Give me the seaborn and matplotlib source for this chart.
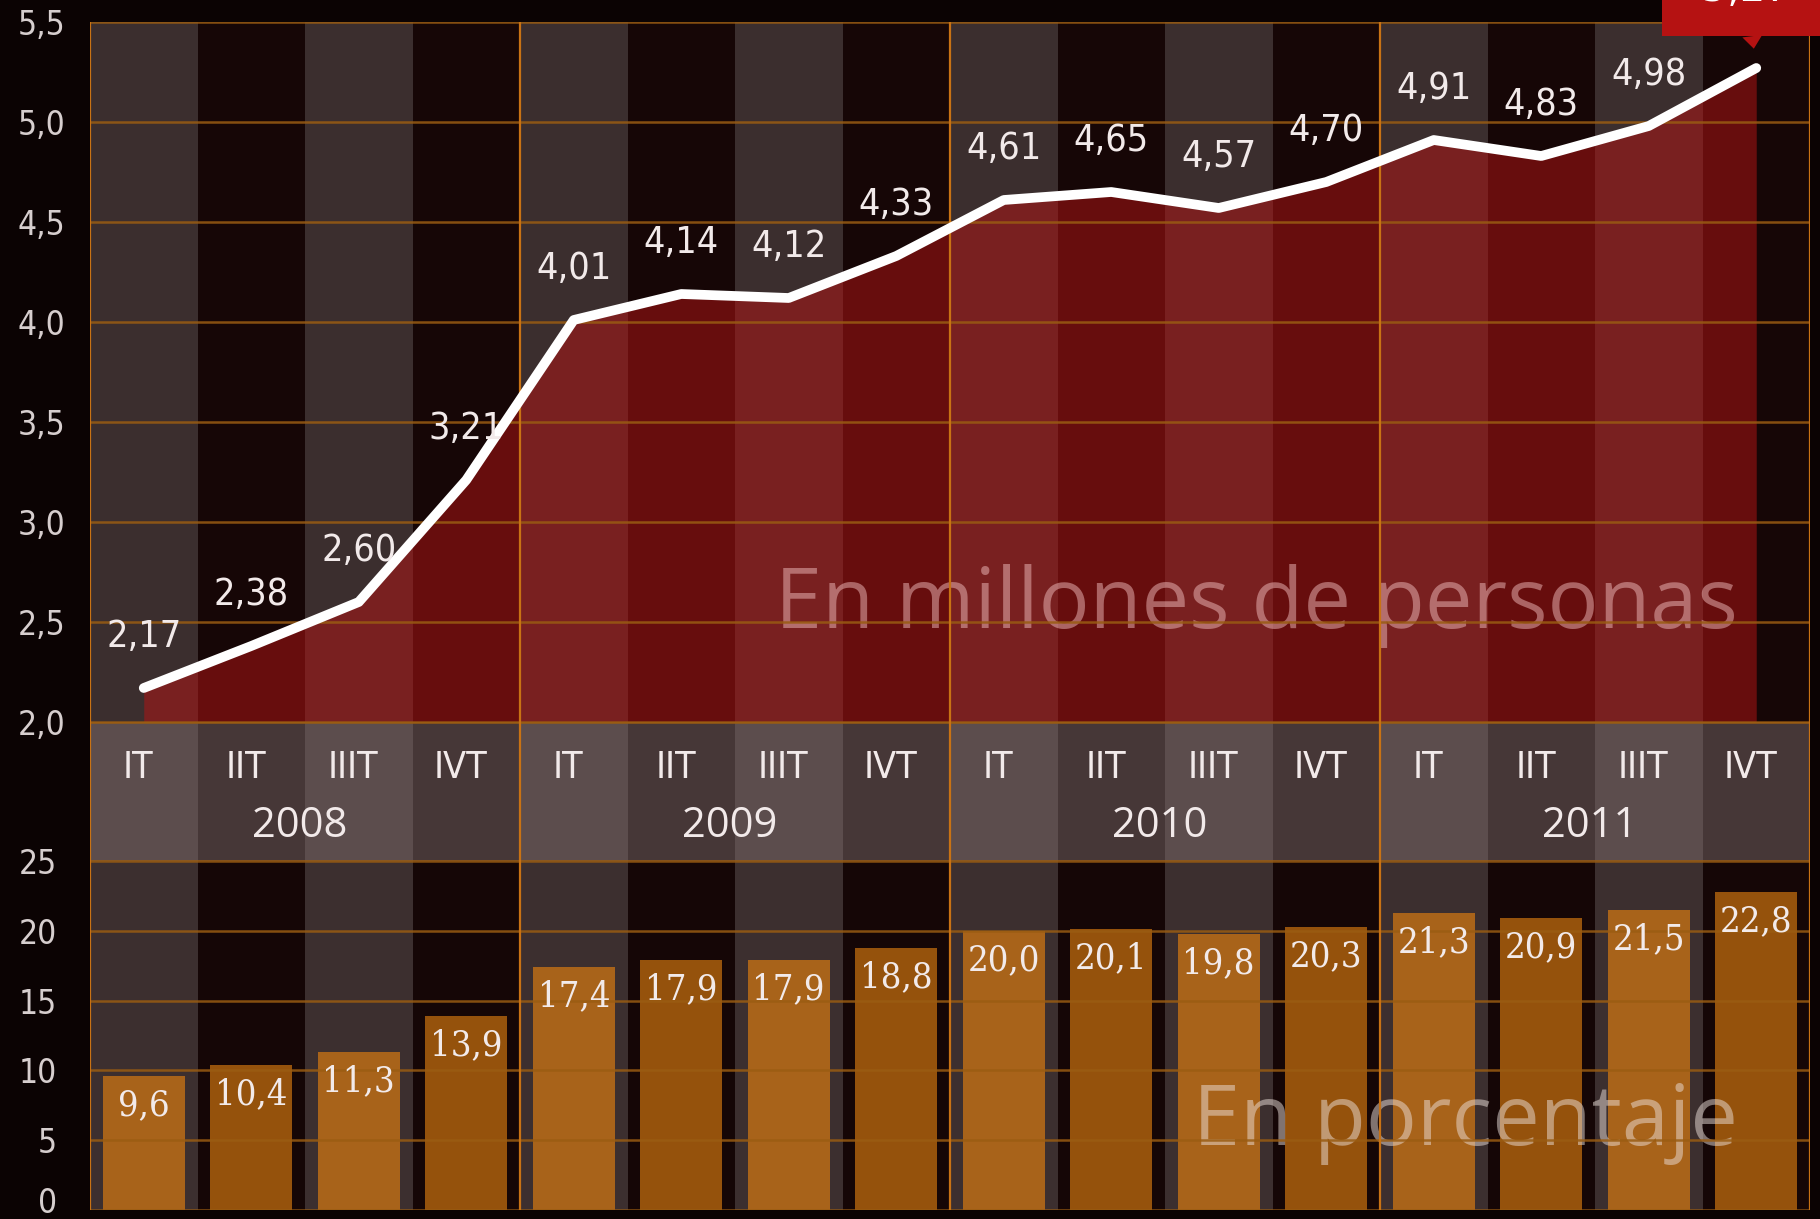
import matplotlib
matplotlib.use("Agg")
import matplotlib.pyplot as plt
from matplotlib.transforms import ScaledTranslation
import seaborn as sns

# datos
trimestres = ["IT", "IIT", "IIIT", "IVT"]
anios = ["2008", "2009", "2010", "2011"]
millones = [2.17, 2.38, 2.60, 3.21, 4.01, 4.14, 4.12, 4.33,
            4.61, 4.65, 4.57, 4.70, 4.91, 4.83, 4.98, 5.27]
porcentaje = [9.6, 10.4, 11.3, 13.9, 17.4, 17.9, 17.9, 18.8,
              20.0, 20.1, 19.8, 20.3, 21.3, 20.9, 21.5, 22.8]
ticks_millones = [2.0, 2.5, 3.0, 3.5, 4.0, 4.5, 5.0, 5.5]
ticks_porcentaje = [0, 5, 10, 15, 20, 25]

etiquetas = [f"{t} {a}" for a in anios for t in trimestres]
pos = list(range(len(etiquetas)))
n = len(pos)


def coma(v, dec):
    return f"{v:.{dec}f}".replace(".", ",")


sns.set_style("dark")
plt.rcParams["font.family"] = ["DejaVu Sans"]
plt.rcParams["font.stretch"] = "condensed"

FONDO = "#0b0303"
NARANJA = "#9a5c12"
NARANJA_V = "#c87214"
TEXTO = "#f2eaea"

fig = plt.figure(figsize=(18.2, 12.19), dpi=100, facecolor=FONDO)
L, W = 90 / 1820, 1720 / 1820
ax_top = fig.add_axes([L, 1 - 722 / 1219, W, 700 / 1219])
ax_mid = fig.add_axes([L, 1 - 861 / 1219, W, 139 / 1219])
ax_bot = fig.add_axes([L, 1 - 1210 / 1219, W, 349 / 1219])


def franjas(ax, claro, oscuro):
    for i in pos:
        ax.axvspan(i - 0.5, i + 0.5, color=claro if i % 2 == 0 else oscuro,
                   lw=0, zorder=0)
    for x in [-0.5, 3.5, 7.5, 11.5, 15.5]:
        ax.axvline(x, color=NARANJA_V, lw=1.6, zorder=4)
    ax.set_xlim(-0.5, 15.5)
    for s in ax.spines.values():
        s.set_visible(False)
    ax.set_facecolor(FONDO)
    ax.set_xticks([])


# --- panel superior: millones de personas ---
franjas(ax_top, "#3b2e2e", "#160606")
ax_top.set_ylim(2.0, 5.5)
ax_top.fill_between(pos, millones, 2.0, color="#b81414", alpha=0.5, lw=0, zorder=1)
for t in ticks_millones:
    ax_top.axhline(t, color=NARANJA, lw=1.8, alpha=0.85, zorder=3)
ax_top.set_yticks(ticks_millones, labels=[coma(t, 1) for t in ticks_millones])
ax_top.tick_params(axis="y", length=0, pad=18, labelsize=24, labelcolor="#d6cece")
ax_top.text(14.83, 2.58, "En millones de personas", ha="right", va="center",
            fontsize=61, color="#efbcbc", alpha=0.5, family="Open Sans",
            fontstretch="normal", zorder=2)
sns.lineplot(x=pos, y=millones, ax=ax_top, color="white", lw=7, zorder=6,
             solid_capstyle="round", solid_joinstyle="round")
ax_top.set(xlabel="", ylabel="")
for i, v in enumerate(millones[:-1]):
    ax_top.annotate(coma(v, 2), (i, v), xytext=(0, 37), textcoords="offset points",
                    ha="center", va="center", fontsize=27, color=TEXTO, zorder=7)
ROJO = "#b51212"
ax_top.annotate(f" {coma(millones[-1], 2)} ", (pos[-1], millones[-1]), xytext=(-10, 80),
                textcoords="offset pixels", ha="center", va="center", fontsize=32,
                color="white", zorder=8, annotation_clip=False,
                bbox=dict(boxstyle="square,pad=0.6", fc=ROJO, ec="none"),
                arrowprops=dict(arrowstyle="wedge,tail_width=0.45", fc=ROJO, ec="none",
                                shrinkA=0, shrinkB=14))

# --- banda central: trimestres y años ---
franjas(ax_mid, "#5c4d4d", "#463737")
ax_mid.set_ylim(0, 1)
ax_mid.set_yticks([])
for y in [0, 1]:
    ax_mid.axhline(y, color=NARANJA, lw=1.8, zorder=3)
for i, e in enumerate(etiquetas):
    ax_mid.text(i - 0.05, 0.67, e.split()[0], ha="center", va="center", fontsize=27,
                color=TEXTO)
for k, a in enumerate(anios):
    ax_mid.text(4 * k + 1.45, 0.25, a, ha="center", va="center", fontsize=30,
                color=TEXTO, family="Open Sans", fontstretch="normal")

# --- panel inferior: porcentaje ---
franjas(ax_bot, "#3c2f2f", "#150606")
colores = ["#a8631a" if i % 2 == 0 else "#95520c" for i in pos]
sns.barplot(x=etiquetas, y=porcentaje, hue=etiquetas, palette=colores, legend=False,
            dodge=False, width=0.76, saturation=1, ax=ax_bot, zorder=1,
            edgecolor="none", linewidth=0)
ax_bot.set_xlim(-0.5, 15.5)
ax_bot.set_ylim(0, 25)
ax_bot.set(xlabel="", ylabel="")
ax_bot.set_xticks([])
for t in ticks_porcentaje:
    ax_bot.axhline(t, color=NARANJA, lw=1.8, alpha=0.85, zorder=3)
ax_bot.set_yticks(ticks_porcentaje, labels=[str(t) for t in ticks_porcentaje])
ax_bot.tick_params(axis="y", length=0, pad=24, labelsize=24, labelcolor="#d6cece")
# el "0" queda pegado al borde inferior: subirlo un poco
cero = ax_bot.get_yticklabels()[0]
cero.set_transform(cero.get_transform() + ScaledTranslation(0, 0.10, fig.dpi_scale_trans))
for i, v in enumerate(porcentaje):
    ax_bot.annotate(coma(v, 1), (i, v), xytext=(0, -21), textcoords="offset points",
                    ha="center", va="center", fontsize=26, color=TEXTO, zorder=7,
                    family="DejaVu Serif", fontstretch="condensed")
ax_bot.text(14.83, 6.2, "En porcentaje", ha="right", va="center", fontsize=61,
            color="#ece0da", alpha=0.5, family="Open Sans", fontstretch="normal",
            zorder=2)

fig.savefig("out.png", dpi=100, facecolor=FONDO)
